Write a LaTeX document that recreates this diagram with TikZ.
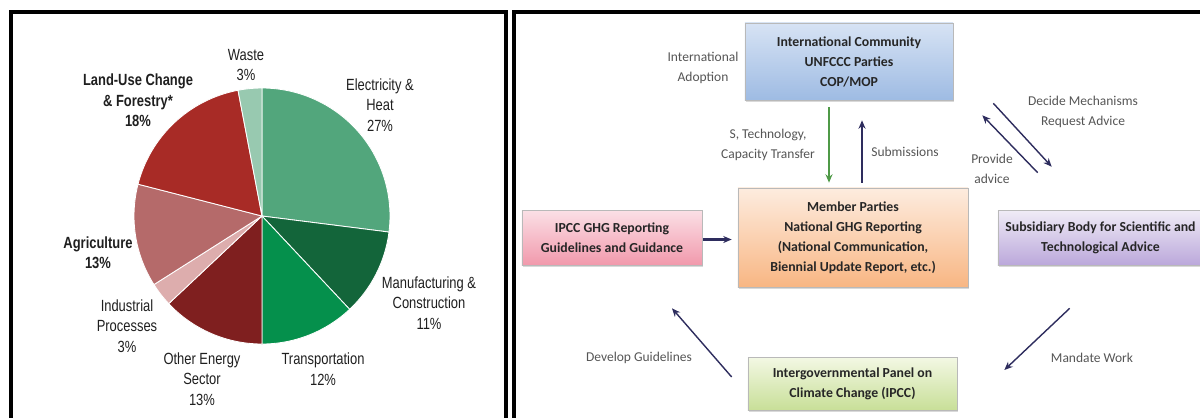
\documentclass[tikz,border=0pt]{standalone}
\usepackage{fontspec}
\setmainfont{Carlito}
\newfontfamily\piefont[FakeStretch=0.8]{Liberation Sans}
\usepackage{tikz}
\usetikzlibrary{arrows.meta, shadows, calc}

% pie colours
\definecolor{elecheat}{HTML}{52A67C}
\definecolor{manuf}{HTML}{13653A}
\definecolor{transp}{HTML}{05904C}
\definecolor{otherenergy}{HTML}{7F1F1F}
\definecolor{industr}{HTML}{DDADAD}
\definecolor{agric}{HTML}{B56A6A}
\definecolor{landuse}{HTML}{A82B26}
\definecolor{wastec}{HTML}{98C9B0}
% box colours
\definecolor{intltop}{HTML}{D7E3F4}
\definecolor{intlbot}{HTML}{9EBBE3}
\definecolor{membtop}{HTML}{FDECDF}
\definecolor{membbot}{HTML}{F8B683}
\definecolor{guidetop}{HTML}{FBE0E6}
\definecolor{guidebot}{HTML}{F199AC}
\definecolor{sbstatop}{HTML}{F0ECF6}
\definecolor{sbstabot}{HTML}{BBA8DB}
\definecolor{ipcctop}{HTML}{F3F8E4}
\definecolor{ipccbot}{HTML}{C8DF98}
\definecolor{navyarr}{HTML}{2E2D5E}
\definecolor{greenarr}{HTML}{4F9A47}
\definecolor{lbltext}{HTML}{555555}

\tikzset{
  pielbl/.style={font=\piefont\fontsize{11.5}{14.5}\selectfont, align=center, text=black!88, inner sep=0pt},
  piebold/.style={pielbl, font=\piefont\fontsize{11.5}{14.5}\selectfont\bfseries},
  flowbox/.style={rectangle, draw=gray!55, line width=0.4pt, align=center, inner sep=0pt,
    font=\fontsize{9.8}{14.2}\selectfont\bfseries, text=black!85,
    drop shadow={opacity=0.3, shadow xshift=0.8pt, shadow yshift=-1.2pt}},
  flowlbl/.style={align=center, inner sep=0pt, font=\fontsize{9.6}{14}\selectfont, text=lbltext},
  navyarrow/.style={draw=navyarr, line width=1pt, -{Stealth[length=6pt, width=5pt]}},
  greenarrow/.style={draw=greenarr, line width=1pt, -{Stealth[length=6pt, width=5pt]}}
}

\begin{document}
\begin{tikzpicture}[x=0.025cm, y=-0.025cm]
    \useasboundingbox (0,0) rectangle (1200,417);
    % frames
    \draw[line width=2.2pt] (11,425) -- (11,12) -- (506,12) -- (506,425);
    \draw[line width=2.2pt] (514,425) -- (514,12) -- (1210,12);

    % Pie
    \begin{scope}[shift={(262,216)}, x=0.025cm, y=0.025cm]
        \foreach \from/\to/\col in {90/-7.2/elecheat, -7.2/-46.8/manuf, -46.8/-90/transp, -90/-136.8/otherenergy,
                                    -136.8/-147.6/industr, -147.6/-194.4/agric, -194.4/-259.2/landuse, -259.2/-270/wastec}{
            \filldraw[fill=\col, draw=white, line width=0.6pt] (0,0) -- (\from:128) arc[start angle=\from, end angle=\to, radius=128] -- cycle;
        }
    \end{scope}

    % pie labels
    \node[pielbl] (wastelbl) at (246,65) {Waste\\3\%};
    \node[piebold] (lucflbl) at (138,100.5) {Land-Use Change\\\& Forestry*\\18\%};
    \node[pielbl] (eleclbl) at (380,105) {Electricity \&\\Heat\\27\%};
    \node[piebold] (agrilbl) at (98,252.5) {Agriculture\\13\%};
    \node[pielbl] (manulbl) at (429,303) {Manufacturing \&\\Construction\\11\%};
    \node[pielbl] (indulbl) at (127,326) {Industrial\\Processes\\3\%};
    \node[pielbl] (otherlbl) at (202,379) {Other Energy\\Sector\\13\%};
    \node[pielbl] (translbl) at (323,369) {Transportation\\12\%};

    % boxes
    \node[flowbox, top color=intltop, bottom color=intlbot, minimum width=5.2cm, minimum height=1.925cm] (intl) at (849,61.5)
        {International Community\\UNFCCC Parties\\COP/MOP};
    \node[flowbox, top color=membtop, bottom color=membbot, minimum width=5.75cm, minimum height=2.475cm] (member) at (853,237.5)
        {Member Parties\\National GHG Reporting\\(National Communication,\\Biennial Update Report, etc.)};
    \node[flowbox, top color=guidetop, bottom color=guidebot, minimum width=4.5cm, minimum height=1.375cm] (ipguide) at (612,237.5)
        {IPCC GHG Reporting\\Guidelines and Guidance};
    \node[flowbox, top color=sbstatop, bottom color=sbstabot, minimum width=5.125cm, minimum height=1.375cm] (sbsta) at (1100.5,237.5)
        {Subsidiary Body for Scientific and\\Technological Advice};
    \node[flowbox, top color=ipcctop, bottom color=ipccbot, minimum width=5.225cm, minimum height=1.325cm] (ipcc) at (852.5,383.5)
        {Intergovernmental Panel on\\Climate Change (IPCC)};

    % arrow labels
    \node[flowlbl] (adoptlbl) at (703,68) {International\\Adoption};
    \node[flowlbl] (translbl2) at (768,145) {S, Technology,\\Capacity Transfer};
    \node[flowlbl] (submitlbl) at (905,152) {Submissions};
    \node[flowlbl] (decidelbl) at (1083,112) {Decide Mechanisms\\Request Advice};
    \node[flowlbl] (providelbl) at (992,169) {Provide\\advice};
    \node[flowlbl] (developlbl) at (639,358) {Develop Guidelines};
    \node[flowlbl] (mandatelbl) at (1092,358) {Mandate Work};

    % arrows
    \draw[greenarrow] ($(intl.south)+(-20,7)$) -- ($(member.north)+(-24,-5)$);
    \draw[navyarrow] ($(member.north)+(9,-5)$) -- ($(intl.south)+(13,20)$);
    \draw[navyarrow, line width=1.6pt] ($(ipguide.east)+(1,2)$) -- ($(member.west)+(-6,2)$);
    \draw[navyarrow] ($(intl.south east)+(40,3)$) -- ($(sbsta.north west)+(54,-43)$);
    \draw[navyarrow] ($(sbsta.north west)+(40,-37)$) -- ($(intl.south east)+(29,15)$);
    \draw[navyarrow] ($(sbsta.south west)+(72,43)$) -- ($(ipcc.east)+(47,-13.5)$);
    \draw[navyarrow] ($(ipcc.west)+(-16,-6.5)$) -- ($(ipguide.south)+(60,43)$);
\end{tikzpicture}
\end{document}
